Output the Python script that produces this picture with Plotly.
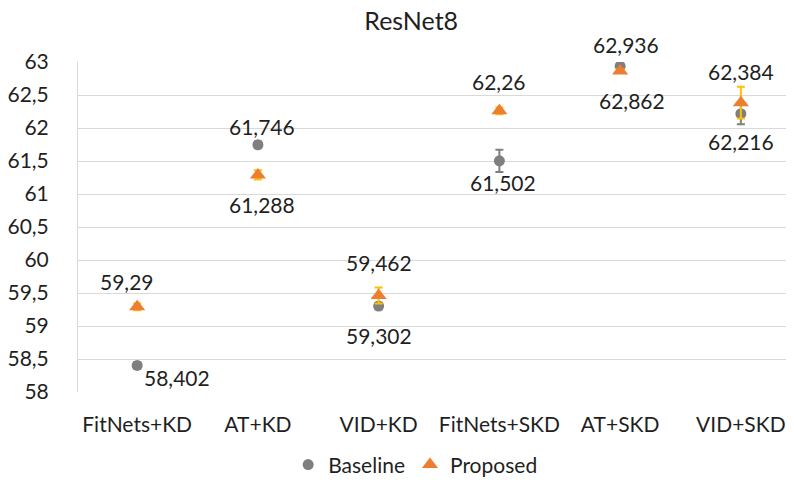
import plotly.graph_objects as go

categories = ["FitNets+KD", "AT+KD", "VID+KD", "FitNets+SKD", "AT+SKD", "VID+SKD"]
baseline = [58.402, 61.746, 59.302, 61.502, 62.936, 62.216]
baseline_err = [0.05, 0.05, 0.05, 0.17, 0.03, 0.16]
proposed = [59.29, 61.288, 59.462, 62.26, 62.862, 62.384]
proposed_err = [0.05, 0.07, 0.12, 0.05, 0.03, 0.24]
y_ticks = [58, 58.5, 59, 59.5, 60, 60.5, 61, 61.5, 62, 62.5, 63]

# label offsets (px): (xshift, yshift) for each data label
base_label_shift = [(40, -12), (4, 18), (0, -29), (4, -22), (6, 22), (0, -28)]
prop_label_shift = [(-10, 25), (4, -30), (0, 33), (0, 29), (12, -29), (0, 31)]

FONT = "Lato"
GREY = "#7F7F7F"
ORANGE = "#ED7D31"
GOLD = "#FFC000"
TXT = "#1f1f1f"

fig = go.Figure()
fig.add_trace(go.Scatter(
    x=categories, y=baseline, mode="markers", name="Baseline",
    marker=dict(symbol="circle", size=11, color=GREY),
    error_y=dict(type="data", array=baseline_err, color=GREY, thickness=2, width=4),
))
fig.add_trace(go.Scatter(
    x=categories, y=proposed, mode="markers", name="Proposed",
    marker=dict(symbol="triangle-up", size=14, color=ORANGE),
    error_y=dict(type="data", array=proposed_err, color=GOLD, thickness=2, width=4),
))

def fmt(v):
    s = ("%.3f" % v).rstrip("0").rstrip(".")
    return s.replace(".", ",")

for vals, shifts in ((baseline, base_label_shift), (proposed, prop_label_shift)):
    for c, v, (dx, dy) in zip(categories, vals, shifts):
        fig.add_annotation(x=c, y=v, text=fmt(v), showarrow=False,
                           xshift=dx, yshift=dy,
                           font=dict(family=FONT, size=21, color=TXT))

fig.update_layout(
    width=786, height=477,
    margin=dict(l=70, r=0, t=54, b=93, autoexpand=False),
    paper_bgcolor="white", plot_bgcolor="white",
    separators=",.",
    font=dict(family=FONT, size=21, color=TXT),
    title=dict(text="ResNet8", x=0.513, xref="container", xanchor="center",
               y=0.99, yref="container", yanchor="top",
               pad=dict(t=0, b=0, l=0, r=0),
               font=dict(family=FONT, size=25, color=TXT)),
    showlegend=True,
    legend=dict(orientation="h", x=0.518, xref="container", xanchor="center",
                y=0.042, yref="container", yanchor="middle",
                font=dict(family=FONT, size=21, color=TXT),
                itemwidth=30, tracegroupgap=0),
)
fig.update_xaxes(range=[-0.49, 5.44], showgrid=False, showline=False,
                 zeroline=False, ticks="", ticklabelstandoff=18,
                 tickfont=dict(family=FONT, size=21, color=TXT))
fig.update_yaxes(range=[58, 63], tickvals=y_ticks, tickformat=".1~f",
                 showgrid=True, gridcolor="#D9D9D9", gridwidth=1,
                 showline=True, linecolor="#D9D9D9", linewidth=1,
                 zeroline=False, ticks="", ticklabelstandoff=24,
                 tickfont=dict(family=FONT, size=21, color=TXT))

fig.write_html("out.html")
